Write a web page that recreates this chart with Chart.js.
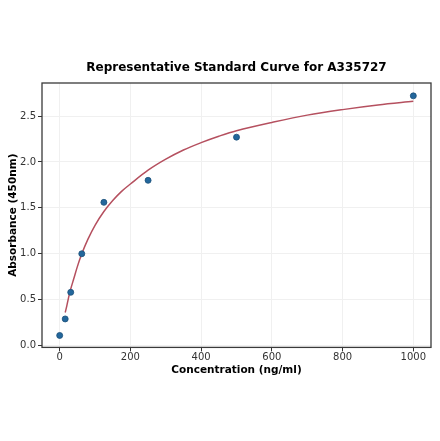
<!DOCTYPE html>
<html>
<head>
<meta charset="utf-8">
<script src="https://cdn.jsdelivr.net/npm/chart.js@4/dist/chart.umd.min.js"></script>
<style>
  html, body { margin: 0; padding: 0; background: #fff; }
  #wrap { width: 440px; height: 441px; }
</style>
</head>
<body>
<div id="wrap"><canvas id="curveChart" width="440" height="441"></canvas></div>
<script>
// Standardpunkte (Messwerte)
const stdConc = [0, 15.6, 31.25, 62.5, 125, 250, 500, 1000];
const stdAbs = [0.11, 0.29, 0.58, 1.0, 1.56, 1.80, 2.27, 2.72];

// Angepasste Kurve
const fitConc = [15.6, 20, 25, 30, 40, 50, 62.5, 80, 100, 125, 150, 175, 200, 250, 300, 350, 400, 450, 500, 600, 700, 800, 900, 1000];
const fitAbs = [0.36, 0.43, 0.52, 0.60, 0.73, 0.86, 1.00, 1.16, 1.31, 1.46, 1.58, 1.68, 1.76, 1.91, 2.03, 2.13, 2.21, 2.28, 2.34, 2.43, 2.51, 2.57, 2.62, 2.66];

// Achsenticks
const xTicks = [0, 200, 400, 600, 800, 1000];
const yTicks = [0.0, 0.5, 1.0, 1.5, 2.0, 2.5];

const chartTitle = 'Representative Standard Curve for A335727';
const pointColor = "#23679c";
const curveColor = "#b5505f";
const tickColor = "#333333";

Chart.defaults.font.family = "'DejaVu Sans', sans-serif";
Chart.defaults.animation = false;

// Rahmen um den Plotbereich + Titel über der Plotmitte
const frameBox = {
  id: 'frameBox',
  afterDatasetsDraw(chart) {
    const { ctx, chartArea: a } = chart;
    ctx.save();
    ctx.strokeStyle = "#3a3a3a";
    ctx.lineWidth = 1.3;
    ctx.strokeRect(a.left, a.top, a.right - a.left, a.bottom - a.top);
    ctx.fillStyle = "#000";
    ctx.font = "bold 12px 'DejaVu Sans', sans-serif";
    ctx.textAlign = "center";
    ctx.textBaseline = "middle";
    ctx.fillText(chartTitle, (a.left + a.right) / 2, 68);
    ctx.restore();
  }
};

const ctx = document.getElementById('curveChart').getContext('2d');
new Chart(ctx, {
  type: 'scatter',
  data: {
    datasets: [
      {
        label: 'Standard',
        data: stdConc.map((x, i) => ({ x: x, y: stdAbs[i] })),
        backgroundColor: pointColor,
        borderColor: "#1b4f78",
        borderWidth: 0.8,
        pointRadius: 3,
        order: 1
      },
      {
        label: 'Fit',
        type: 'line',
        data: fitConc.map((x, i) => ({ x: x, y: fitAbs[i] })),
        borderColor: curveColor,
        borderWidth: 1.5,
        pointRadius: 0,
        fill: false,
        tension: 0.35,
        order: 2
      }
    ]
  },
  options: {
    responsive: false,
    devicePixelRatio: 1,
    layout: { padding: { left: 7, right: 9, top: 83, bottom: 64 } },
    scales: {
      x: {
        type: 'linear',
        min: -50,
        max: 1050,
        afterBuildTicks: (scale) => { scale.ticks = xTicks.map(v => ({ value: v })); },
        ticks: { color: tickColor, font: { size: 10 }, padding: 0, maxRotation: 0, callback: (v) => String(v) },
        grid: { color: "#f0f0f0", tickColor: tickColor, tickLength: 4 },
        border: { display: false },
        title: { display: true, text: 'Concentration (ng/ml)', color: '#000', font: { size: 10.5, weight: 'bold' }, padding: { top: 1, bottom: 0 } }
      },
      y: {
        type: 'linear',
        min: -0.02,
        max: 2.86,
        afterBuildTicks: (scale) => { scale.ticks = yTicks.map(v => ({ value: v })); },
        afterFit: (scale) => { scale.width = 35; },
        ticks: { color: tickColor, font: { size: 10 }, padding: 2, callback: (v) => v.toFixed(1) },
        grid: { color: "#f0f0f0", tickColor: tickColor, tickLength: 4 },
        border: { display: false },
        title: { display: true, text: 'Absorbance (450nm)', color: '#000', font: { size: 10.5, weight: 'bold' }, padding: { top: 0, bottom: 0 } }
      }
    },
    plugins: {
      legend: { display: false },
      tooltip: { enabled: false },
      title: { display: false }
    }
  },
  plugins: [frameBox]
});
</script>
</body>
</html>
